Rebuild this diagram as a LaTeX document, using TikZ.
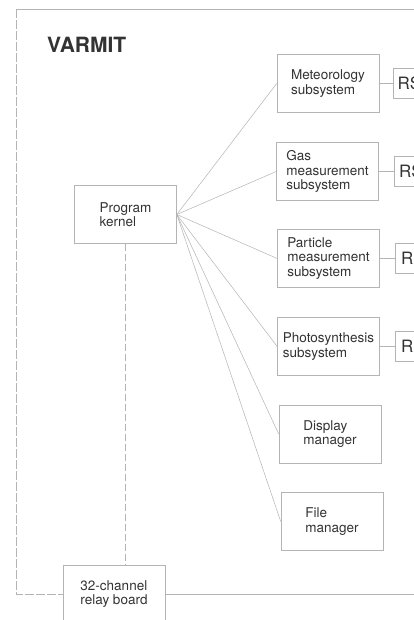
\documentclass[tikz,border=0pt]{standalone}
\usepackage{fontspec}
\setmainfont{TeX Gyre Heros}
\usetikzlibrary{positioning}
\definecolor{inkgray}{HTML}{333333}
\definecolor{rulegray}{HTML}{B4B4B4}
\tikzset{
  module/.style={draw=rulegray, line width=0.6pt, text=inkgray, align=left,
    minimum width=102pt, minimum height=58pt, font=\fontsize{13.5}{14.5}\selectfont},
  portbox/.style={draw=rulegray, line width=0.6pt, text=inkgray, minimum height=30pt,
    inner xsep=6pt, font=\fontsize{17}{17}\selectfont},
  link/.style={draw=rulegray, line width=0.5pt},
}
\begin{document}
\begin{tikzpicture}[x=1pt, y=-1pt]
  \fill[white] (0,0) rectangle (414,620);
  \useasboundingbox (0,0) rectangle (414,620);
  \clip (0,0) rectangle (414,620);
  \node[anchor=base west, inner sep=0pt, text=inkgray, font=\bfseries\fontsize{21}{21}\selectfont] (title) at (47,53) {VARMIT};
  \node[module] (kernel) at (125.5,214.5) {Program\\kernel};
  \node[module] (met) at (328,83.5) {Meteorology\\subsystem};
  \node[module] (gas) at (327.5,171.5) {Gas\\measurement\\subsystem};
  \node[module] (part) at (328.5,258.5) {Particle\\measurement\\subsystem};
  \node[module] (photo) at (328.5,346.5) {Photosynthesis\\subsystem};
  \node[module] (disp) at (330,434) {Display\\manager};
  \node[module] (file) at (332,521.5) {File\\manager};
  \node[module] (relay) at (114,594) {32-channel\\relay board};
  \node[portbox, inner xsep=4pt, right=14pt of met] (rs1) {RS};
  \node[portbox, inner xsep=5pt, right=15pt of gas] (rs2) {RS};
  \node[portbox, right=15pt of part] (rs3) {RS};
  \node[portbox, right=15pt of photo] (rs4) {RS};
  \foreach \sub in {met,gas,part,photo,disp,file}
    \draw[link] (kernel.east) -- (\sub.west);
  \foreach \sub/\port in {met/rs1,gas/rs2,part/rs3,photo/rs4}
    \draw[link] (\sub.east) -- (\port.west);
  \draw[link, dash pattern=on 7pt off 3pt] (kernel.south) -- (kernel.south |- relay.north);
  \coordinate (corner) at (16,9);
  \draw[link] (corner) -- ++(420,0);
  \draw[link, dash pattern=on 9pt off 2pt] (corner) |- (relay.west);
  \draw[link] (relay.east) -- ++(260,0);
\end{tikzpicture}
\end{document}
